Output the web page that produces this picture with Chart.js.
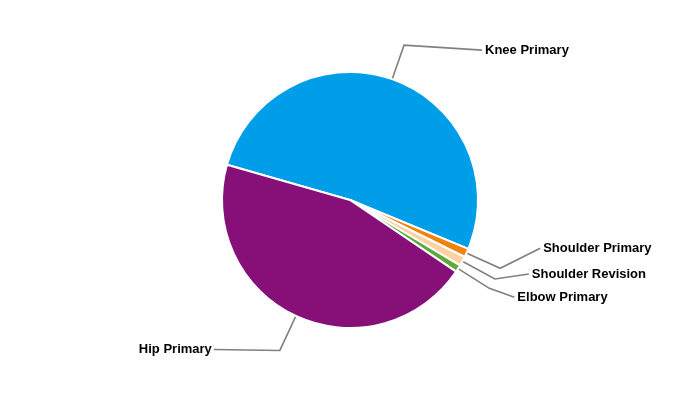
<!DOCTYPE html>
<html>
<head>
<meta charset="utf-8">
<script src="https://cdn.jsdelivr.net/npm/chart.js@4"></script>
<style>
html,body{margin:0;padding:0;background:#fff;}
#wrap{width:700px;height:400px;position:relative;}
</style>
</head>
<body>
<div id="wrap"><canvas id="c" width="700" height="400"></canvas></div>
<script>
const categories = ["Knee Primary", "Shoulder Primary", "Shoulder Revision", "Elbow Primary", "Hip Primary"];
const shares = [51.8, 1.1, 1.2, 0.9, 45.0];
const sliceColors = ["#009EE9", "#F0820F", "#FDD0A2", "#5AAA3C", "#870F78"];

// leader-line layout: elbow radius offset, label anchor offset from elbow, text align
const leaderLayout = [
  {elbow: 36, dx: 78, dy: 5, align: "left"},
  {elbow: 37, dx: 40, dy: -20, align: "left"},
  {elbow: 37, dx: 34, dy: -5, align: "left"},
  {elbow: 37, dx: 25, dy: 9, align: "left"},
  {elbow: 38, dx: -66, dy: -1, align: "right"}
];

const leaderPlugin = {
  id: "leaders",
  afterDatasetsDraw(chart) {
    const ctx = chart.ctx;
    const meta = chart.getDatasetMeta(0);
    ctx.save();
    meta.data.forEach((arc, i) => {
      const p = arc.getProps(["x","y","startAngle","endAngle","outerRadius"], true);
      const mid = (p.startAngle + p.endAngle) / 2;
      const r0 = p.outerRadius + 1;
      const L = leaderLayout[i];
      const r1 = p.outerRadius + L.elbow;
      const x0 = p.x + Math.cos(mid) * r0, y0 = p.y + Math.sin(mid) * r0;
      const x1 = p.x + Math.cos(mid) * r1, y1 = p.y + Math.sin(mid) * r1;
      const x2 = x1 + L.dx, y2 = y1 + L.dy;
      ctx.beginPath();
      ctx.strokeStyle = "#808080";
      ctx.lineWidth = 1.6;
      ctx.moveTo(x0, y0); ctx.lineTo(x1, y1); ctx.lineTo(x2, y2);
      ctx.stroke();
      ctx.fillStyle = "#000";
      ctx.font = "bold 13px 'Liberation Sans', Arial, sans-serif";
      ctx.textBaseline = "middle";
      ctx.textAlign = L.align;
      ctx.fillText(categories[i], x2 + (L.align === "left" ? 3 : -2), y2);
    });
    ctx.restore();
  }
};

new Chart(document.getElementById("c"), {
  type: "pie",
  data: {
    labels: categories,
    datasets: [{
      data: shares,
      backgroundColor: sliceColors,
      borderColor: "#ffffff",
      borderWidth: 2
    }]
  },
  options: {
    responsive: false,
    animation: false,
    rotation: -74,
    layout: {padding: {top: 71, bottom: 71, left: 0, right: 0}},
    plugins: {legend: {display: false}, tooltip: {enabled: false}}
  },
  plugins: [leaderPlugin]
});
</script>
</body>
</html>
